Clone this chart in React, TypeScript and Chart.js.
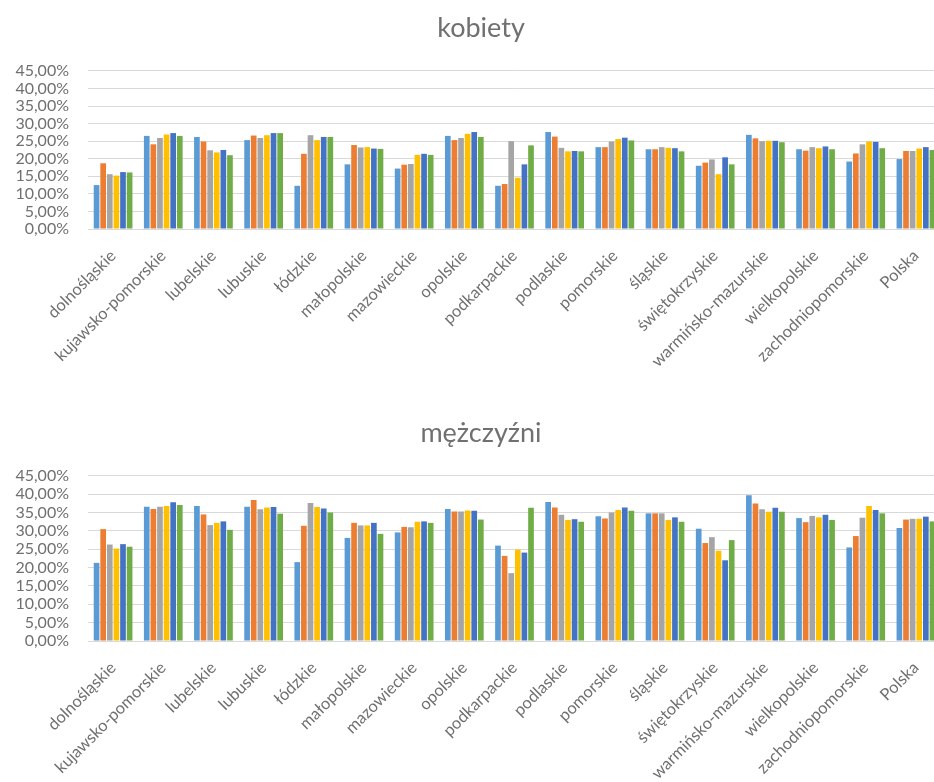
import React, { useEffect, useRef } from "react";
import { Chart, registerables } from "chart.js";

Chart.register(...registerables);

// Regions (voivodeships) plus the national total
const regions = [
  "dolnośląskie",
  "kujawsko-pomorskie",
  "lubelskie",
  "lubuskie",
  "łódzkie",
  "małopolskie",
  "mazowieckie",
  "opolskie",
  "podkarpackie",
  "podlaskie",
  "pomorskie",
  "śląskie",
  "świętokrzyskie",
  "warmińsko-mazurskie",
  "wielkopolskie",
  "zachodniopomorskie",
  "Polska",
];

const seriesNames = ["Seria 1", "Seria 2", "Seria 3", "Seria 4", "Seria 5", "Seria 6"];
const seriesColors = ["#5B9BD5", "#ED7D31", "#A5A5A5", "#FFC000", "#4472C4", "#70AD47"];

// Values in percent — women
const kobiety1 = [12.5, 26.5, 26.2, 25.3, 12.3, 18.4, 17.2, 26.5, 12.3, 27.6, 23.3, 22.7, 18.0, 26.8, 22.7, 19.2, 19.9];
const kobiety2 = [18.7, 24.1, 24.9, 26.6, 21.4, 23.9, 18.3, 25.3, 12.8, 26.3, 23.3, 22.7, 18.9, 25.8, 22.3, 21.5, 22.2];
const kobiety3 = [15.6, 25.9, 22.4, 25.9, 26.7, 23.2, 18.5, 25.9, 25.0, 23.1, 24.9, 23.3, 19.8, 25.0, 23.3, 24.1, 22.2];
const kobiety4 = [15.2, 26.9, 21.8, 26.7, 25.3, 23.3, 21.1, 27.1, 14.6, 22.1, 25.6, 23.1, 15.6, 25.1, 23.0, 24.9, 22.9];
const kobiety5 = [16.2, 27.3, 22.5, 27.3, 26.2, 22.9, 21.4, 27.6, 18.4, 22.2, 26.0, 23.0, 20.4, 25.1, 23.5, 24.8, 23.3];
const kobiety6 = [16.1, 26.5, 21.0, 27.3, 26.2, 22.8, 21.1, 26.2, 23.8, 22.1, 25.2, 22.1, 18.4, 24.7, 22.7, 23.0, 22.5];

// Values in percent — men
const mezczyzni1 = [21.3, 36.6, 36.8, 36.6, 21.5, 28.1, 29.6, 36.0, 26.0, 37.9, 34.0, 34.8, 30.6, 39.7, 33.5, 25.5, 30.8];
const mezczyzni2 = [30.5, 36.0, 34.5, 38.4, 31.4, 32.2, 31.1, 35.3, 23.2, 36.4, 33.4, 34.8, 26.7, 37.5, 32.4, 28.6, 33.1];
const mezczyzni3 = [26.3, 36.6, 31.6, 35.9, 37.6, 31.5, 31.0, 35.3, 18.5, 34.4, 35.0, 34.8, 28.3, 35.9, 34.1, 33.6, 33.3];
const mezczyzni4 = [25.2, 36.8, 32.2, 36.4, 36.5, 31.5, 32.5, 35.6, 24.9, 33.0, 35.7, 33.0, 24.6, 35.2, 33.7, 36.8, 33.3];
const mezczyzni5 = [26.4, 37.8, 32.6, 36.5, 36.1, 32.2, 32.6, 35.5, 24.1, 33.2, 36.4, 33.7, 22.0, 36.3, 34.4, 35.7, 33.9];
const mezczyzni6 = [25.7, 37.1, 30.3, 34.7, 35.0, 29.2, 32.2, 33.1, 36.3, 32.5, 35.5, 32.5, 27.5, 35.2, 33.0, 34.8, 32.6];

// Value axis
const yMin = 0;
const yMax = 45;
const yStep = 5;

const TEXT = "#707070";
const GRID = "#D9D9D9";
const FONT = "Lato";
const CANVAS_W = 963;
const RIGHT_PAD = 22;
const Y_AXIS_W = 88;
// The heading is centred on the whole chart frame, not only on the plot
const TITLE_SHIFT = 21;

const formatPercent = (v: number) => v.toFixed(2).replace(".", ",") + "%";

const titleShift = {
  id: "titleShift",
  afterLayout(chart: any) {
    const t = chart.titleBlock;
    if (t) t.left += TITLE_SHIFT;
  },
};

type PanelProps = {
  title: string;
  series: number[][];
  top: number;
  plotBottom: number;
};

// Height reserved under the plot for the slanted region names
const X_AXIS_H = 170;

function BarPanel({ title, series, top, plotBottom }: PanelProps) {
  const ref = useRef<HTMLCanvasElement>(null);
  const height = plotBottom + X_AXIS_H;

  useEffect(() => {
    if (!ref.current) return;
    const chart = new Chart(ref.current, {
      type: "bar",
      data: {
        labels: regions,
        datasets: series.map((d, i) => ({
          label: seriesNames[i],
          data: d,
          backgroundColor: seriesColors[i],
          borderWidth: 0,
          barPercentage: 0.86,
          categoryPercentage: 0.79,
        })),
      },
      options: {
        animation: false,
        responsive: false,
        devicePixelRatio: 1,
        layout: { padding: { left: 0, right: RIGHT_PAD, top: 0, bottom: 0 } },
        plugins: {
          legend: { display: false },
          tooltip: { enabled: false },
          title: {
            display: true,
            text: title,
            color: TEXT,
            font: { family: FONT, size: 27, weight: "normal" },
            padding: { top: 12, bottom: 26.5 },
          },
        },
        scales: {
          x: {
            grid: { display: false },
            border: { display: true, color: GRID },
            ticks: {
              autoSkip: false,
              maxRotation: 45,
              minRotation: 45,
              padding: 9,
              color: TEXT,
              font: { family: FONT, size: 16.5 },
            },
            afterFit: (scale: any) => {
              scale.height = X_AXIS_H;
            },
          },
          y: {
            min: yMin,
            max: yMax,
            ticks: {
              stepSize: yStep,
              autoSkip: false,
              padding: 19,
              color: TEXT,
              font: { family: FONT, size: 16 },
              callback: (v: any) => formatPercent(Number(v)),
            },
            grid: { color: GRID, drawTicks: false },
            border: { display: false },
            afterFit: (scale: any) => {
              scale.width = Y_AXIS_W;
            },
          },
        },
      },
      plugins: [titleShift],
    });
    return () => chart.destroy();
  }, [title, series, height]);

  return (
    <canvas
      ref={ref}
      width={CANVAS_W}
      height={height}
      style={{ position: "absolute", left: 0, top, width: CANVAS_W, height }}
    />
  );
}

const womenSeries = [kobiety1, kobiety2, kobiety3, kobiety4, kobiety5, kobiety6];
const menSeries = [mezczyzni1, mezczyzni2, mezczyzni3, mezczyzni4, mezczyzni5, mezczyzni6];

export default function App() {
  return (
    <div
      style={{
        position: "absolute",
        left: 0,
        top: 0,
        width: 934,
        height: 782,
        overflow: "hidden",
        background: "#ffffff",
      }}
    >
      <BarPanel title="mężczyźni" series={menSeries} top={405} plotBottom={236} />
      <BarPanel title="kobiety" series={womenSeries} top={0} plotBottom={229} />
    </div>
  );
}
